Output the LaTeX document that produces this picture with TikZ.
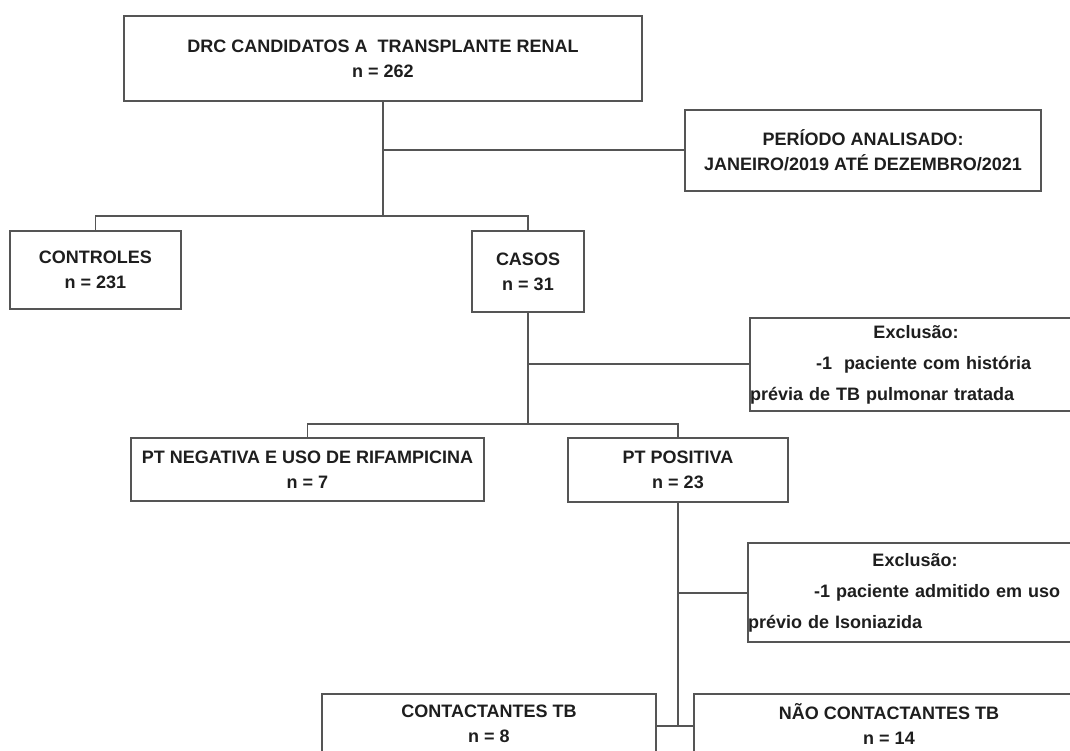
\documentclass[tikz,border=0pt]{standalone}
\usepackage{fontspec}
\setmainfont{Liberation Sans}
\definecolor{linecol}{RGB}{85,85,85}
\definecolor{txtcol}{RGB}{30,30,30}
\begin{document}
\begin{tikzpicture}[x=1pt,y=-1pt,
  box/.style={draw=linecol, line width=1.7pt, fill=white, text=txtcol,
    font=\bfseries\fontsize{18}{25}\selectfont, align=center, inner sep=2pt},
  exbox/.style={draw=linecol, line width=1.7pt, fill=white, text=txtcol,
    font=\bfseries\fontsize{18}{31}\selectfont, align=left, inner xsep=0pt, inner ysep=2pt},
  conn/.style={draw=linecol, line width=1.7pt}]
\useasboundingbox (0,0) rectangle (1070,751);
\fill[white] (0,0) rectangle (1070,751);
\clip (0,0) rectangle (1070,751);

% junction points
\coordinate (j1) at (383,150);
\coordinate (j2) at (383,216);
\coordinate (j3) at (528,364);
\coordinate (j4) at (528,424);
\coordinate (j5) at (678,593);
\coordinate (j6) at (678,726);

% connectors (drawn first, boxes on top)
\path[conn] (383,101) -- (j2);
\path[conn] (j1) -- (685,150);
\path[conn] (95.5,231) |- (j2) -| (528,231);
\path[conn] (528,312) -- (j4);
\path[conn] (j3) -- (750,364);
\path[conn] (307.5,438) |- (j4) -| (678,438);
\path[conn] (678,502) -- (j6);
\path[conn] (j5) -- (748,593);
\path[conn] (656,726) -- (694,726);

% boxes
\node[box, minimum width=518pt, minimum height=85pt] (top) at (383,58.5)
  {DRC CANDIDATOS A\ \ TRANSPLANTE RENAL\\n = 262};
\node[box, minimum width=356pt, minimum height=81pt] (period) at (863,150.5)
  {PERÍODO ANALISADO:\\JANEIRO/2019 ATÉ DEZEMBRO/2021};
\node[box, minimum width=171pt, minimum height=78pt] (controles) at (95.5,270)
  {CONTROLES\\n = 231};
\node[box, minimum width=112pt, minimum height=81pt] (casos) at (528,271.5)
  {CASOS\\n = 31};
\node[exbox, text width=332pt, minimum height=93pt] (excl1) at (916,364.5)
  {\makebox[332pt][c]{Exclusão:}\\\hspace*{66pt}-1\ \ paciente com história\\prévia de TB pulmonar tratada};
\node[box, minimum width=353pt, minimum height=63pt] (ptneg) at (307.5,469.5)
  {PT NEGATIVA E USO DE RIFAMPICINA\\n = 7};
\node[box, minimum width=220pt, minimum height=64pt] (ptpos) at (678,470)
  {PT POSITIVA\\n = 23};
\node[exbox, text width=334pt, minimum height=99pt] (excl2) at (915,592.5)
  {\makebox[334pt][c]{Exclusão:}\\\hspace*{66pt}-1 paciente admitido em uso\\prévio de Isoniazida};
\node[box, minimum width=334pt, minimum height=60pt] (cont) at (489,724)
  {CONTACTANTES TB\\n = 8};
\node[box, minimum width=390pt, minimum height=60pt] (nao) at (889,724)
  {NÃO CONTACTANTES TB\\n = 14};
\end{tikzpicture}
\end{document}
